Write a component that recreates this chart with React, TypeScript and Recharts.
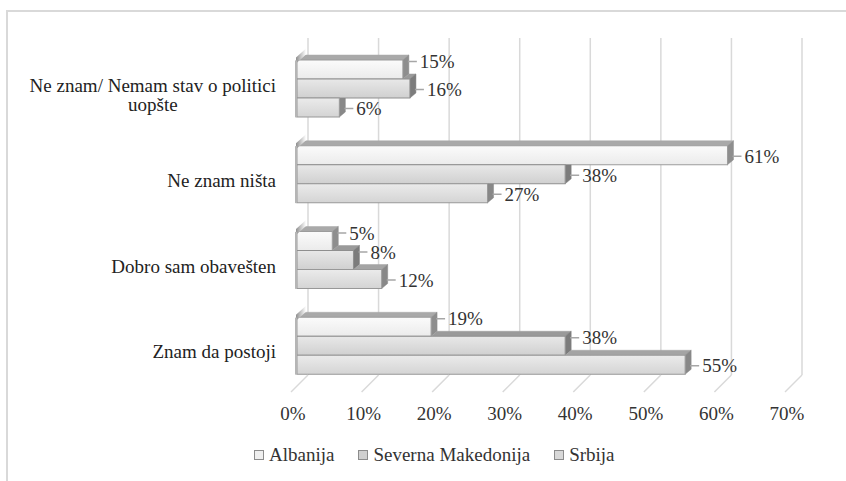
import React, { useLayoutEffect, useRef, useState } from 'react';
import { BarChart, Bar, XAxis, YAxis, CartesianGrid, Legend, LabelList } from 'recharts';

const categories = [
  'Ne znam/ Nemam stav o politici uopšte',
  'Ne znam ništa',
  'Dobro sam obavešten',
  'Znam da postoji',
];
const albanija = [0.15, 0.61, 0.05, 0.19];
const severnaMakedonija = [0.16, 0.38, 0.08, 0.38];
const srbija = [0.06, 0.27, 0.12, 0.55];
const xTicks = [0, 0.1, 0.2, 0.3, 0.4, 0.5, 0.6, 0.7];
const seriesNames = ['Albanija', 'Severna Makedonija', 'Srbija'];
const seriesKeys = ['albanija', 'makedonija', 'srbija'];
const seriesValues = [albanija, severnaMakedonija, srbija];

const data = categories.map((name, i) => ({
  name,
  albanija: albanija[i],
  makedonija: severnaMakedonija[i],
  srbija: srbija[i],
}));

const FONT = '"Liberation Serif", "Times New Roman", serif';
const DX = 6;
const DY = 5;

type FaceStyle = { top: string; bottom: string; lid: string; side: string; stroke: string; legend: string };
const styles: FaceStyle[] = [
  { top: '#fbfbfb', bottom: '#ebebeb', lid: '#a9a9a9', side: '#8e8e8e', stroke: '#9c9c9c', legend: '#efefef' },
  { top: '#e8e8e8', bottom: '#d0d0d0', lid: '#9a9a9a', side: '#7c7c7c', stroke: '#8f8f8f', legend: '#cfcfcf' },
  { top: '#ebebeb', bottom: '#d4d4d4', lid: '#a4a4a4', side: '#888888', stroke: '#989898', legend: '#d8d8d8' },
];

function make3DShape(si: number) {
  return (props: any) => {
    const { x, y, width, height, payload, index } = props;
    if (width == null || !(width > 0)) return <g />;
    const st = styles[si];
    const key = seriesKeys[si];
    const gid = `grad-${key}`;
    let clipId: string | undefined;
    let clipEl: React.ReactNode = null;
    if (si > 0 && payload) {
      const val = payload[key];
      const av = payload[seriesKeys[si - 1]];
      const aw = val > 0 ? (width * av) / val : 0;
      const xa = x + aw;
      clipId = `clip-${key}-${index}`;
      const d =
        `M-100 -100H3000V3000H-100Z ` +
        `M${x} ${y - height}H${xa}V${y}H${x}Z ` +
        `M${xa} ${y - height}L${xa + DX} ${y - height - DY}L${xa + DX} ${y - DY}L${xa} ${y}Z`;
      clipEl = (
        <clipPath id={clipId}>
          <path d={d} clipRule="evenodd" />
        </clipPath>
      );
    }
    return (
      <g>
        <defs>
          <linearGradient id={gid} x1="0" y1="0" x2="0" y2="1">
            <stop offset="0%" stopColor={st.top} />
            <stop offset="100%" stopColor={st.bottom} />
          </linearGradient>
          {clipEl}
        </defs>
        <g clipPath={clipId ? `url(#${clipId})` : undefined}>
          <polygon
            points={`${x},${y} ${x + DX},${y - DY} ${x + width + DX},${y - DY} ${x + width},${y}`}
            fill={st.lid}
            stroke={st.lid}
            strokeWidth={0.5}
          />
          <polygon
            points={`${x + width},${y} ${x + width + DX},${y - DY} ${x + width + DX},${y + height - DY} ${x + width},${y + height}`}
            fill={st.side}
            stroke={st.side}
            strokeWidth={0.5}
          />
        </g>
        <rect x={x} y={y} width={width} height={height} fill={`url(#${gid})`} stroke={st.stroke} strokeWidth={1} />
      </g>
    );
  };
}

function makeLabel(si: number) {
  return (props: any) => {
    const { x, y, width, height, value, index } = props;
    if (value == null) return null;
    const below = si < 2 ? seriesValues[si + 1][index] : undefined;
    const shift = below != null && below > value ? -8 : 1;
    const cy = y + height / 2 + shift;
    const end = x + width;
    return (
      <g>
        <line x1={end + DX - 1} y1={cy} x2={end + 14} y2={cy} stroke="#a6a6a6" strokeWidth={1.5} />
        <text x={end + 17} y={cy} dy="0.35em" style={{ fontFamily: FONT }} fontSize={19} fill="#333">
          {`${Math.round(value * 100)}%`}
        </text>
      </g>
    );
  };
}

function wrap(text: string, max = 30) {
  const words = text.split(' ');
  const lines: string[] = [];
  let cur = '';
  for (const w of words) {
    const next = cur ? `${cur} ${w}` : w;
    if (next.length > max && cur) {
      lines.push(cur);
      cur = w;
    } else cur = next;
  }
  if (cur) lines.push(cur);
  return lines;
}

const MultiLine = ({ ax, y, lines }: { ax: number; y: number; lines: string[] }) => {
  const firstRef = useRef<SVGTextElement | null>(null);
  const [w, setW] = useState(0);
  useLayoutEffect(() => {
    const update = () => {
      if (firstRef.current) {
        const len = firstRef.current.getComputedTextLength();
        if (Math.abs(len - w) > 0.5) setW(len);
      }
    };
    update();
    const fonts = (document as any).fonts;
    if (fonts && fonts.ready) fonts.ready.then(update);
    const t = setTimeout(update, 200);
    return () => clearTimeout(t);
  });
  const lh = 19;
  const startY = y - ((lines.length - 1) * lh) / 2;
  const cx = ax - w / 2;
  return (
    <g>
      {lines.map((l, i) => (
        <text
          key={i}
          ref={i === 0 ? firstRef : undefined}
          x={i === 0 ? ax : cx}
          y={startY + i * lh}
          dy="0.35em"
          textAnchor={i === 0 ? 'end' : 'middle'}
          style={{ fontFamily: FONT }}
          fontSize={19}
          fill="#222"
        >
          {l}
        </text>
      ))}
    </g>
  );
};

const CategoryTick = (props: any) => {
  const { x, y, payload } = props;
  const lines = wrap(String(payload.value));
  const ax = x - 21;
  const gTop = y - 28.5;
  return (
    <g>
      <defs>
        <linearGradient id="wallGrad" x1="0" y1="0" x2="1" y2="0">
          <stop offset="0%" stopColor="#8f8f8f" />
          <stop offset="100%" stopColor="#ffffff" />
        </linearGradient>
      </defs>
      <polygon
        points={`${x - 1},${gTop + 3} ${x - 1},${gTop - 3} ${x + 9},${gTop - 12} ${x + 9},${gTop - 6}`}
        fill="url(#wallGrad)"
      />
      <rect x={x - 2} y={gTop} width={2} height={57} fill="#b5b5b5" />
      {lines.length === 1 ? (
        <text x={ax} y={y + 5.5} dy="0.35em" textAnchor="end" style={{ fontFamily: FONT }} fontSize={19} fill="#222">
          {lines[0]}
        </text>
      ) : (
        <MultiLine ax={ax} y={y + 5.5} lines={lines} />
      )}
    </g>
  );
};

const ValueTick = (props: any) => {
  const { x, y, payload } = props;
  return (
    <g>
      <line x1={x + 11} y1={y - 14} x2={x - 6} y2={y + 3} stroke="#d9d9d9" strokeWidth={1.5} />
      <text x={x - 4} y={y + 24} dy="0.35em" textAnchor="middle" style={{ fontFamily: FONT }} fontSize={19} fill="#333">
        {`${Math.round(payload.value * 100)}%`}
      </text>
    </g>
  );
};

const gridX = (args: any) => {
  const scale = args?.xAxis?.scale;
  const off = args?.offset || {};
  return xTicks.map(
    (t) => (typeof scale === 'function' ? scale(t) : off.left + (t / 0.7) * off.width) + 11
  );
};

const LegendContent = () => (
  <div
    style={{
      position: 'absolute',
      left: 254,
      top: 444,
      display: 'flex',
      alignItems: 'center',
      fontFamily: FONT,
      fontSize: 19,
      color: '#333',
      whiteSpace: 'nowrap',
      lineHeight: '22px',
    }}
  >
    {seriesNames.map((n, i) => (
      <div key={n} style={{ display: 'flex', alignItems: 'center', marginRight: i < 2 ? 24 : 0 }}>
        <span
          style={{
            display: 'inline-block',
            width: 8,
            height: 8,
            border: '1px solid #8c8c8c',
            background: styles[i].legend,
            marginRight: 5,
          }}
        />
        <span>{n}</span>
      </div>
    ))}
  </div>
);

export default function App() {
  return (
    <div style={{ position: 'relative', width: 846, height: 481, background: '#fff', overflow: 'hidden', fontFamily: FONT }}>
      <style>{`html,body{margin:0;padding:0;overflow:hidden;background:#fff;}`}</style>
      <div
        style={{
          position: 'absolute',
          left: 6,
          top: 10,
          width: 840,
          height: 471,
          borderLeft: '2px solid #d9d9d9',
          borderTop: '2px solid #d9d9d9',
          boxSizing: 'border-box',
        }}
      />
      <div style={{ position: 'absolute', left: 0, top: 0 }}>
        <BarChart
          width={846}
          height={481}
          data={data}
          layout="vertical"
          margin={{ top: 46, right: 55, bottom: 62, left: 0 }}
          barGap={0}
          barSize={19}
        >
          <CartesianGrid
            horizontal={false}
            vertical={true}
            y={38}
            height={337}
            stroke="#d9d9d9"
            strokeWidth={1.5}
            verticalCoordinatesGenerator={gridX}
          />
          <XAxis
            type="number"
            domain={[0, 0.7]}
            ticks={xTicks}
            axisLine={false}
            tickLine={false}
            tickSize={0}
            tickMargin={0}
            height={30}
            interval={0}
            tick={<ValueTick />}
          />
          <YAxis
            type="category"
            dataKey="name"
            width={297}
            axisLine={false}
            tickLine={false}
            tickSize={0}
            tickMargin={0}
            interval={0}
            tick={<CategoryTick />}
          />
          <Legend
            verticalAlign="bottom"
            content={<LegendContent />}
            wrapperStyle={{ left: 0, top: 0, width: 846, height: 0 }}
          />
          {seriesKeys.map((k, i) => (
            <Bar key={k} dataKey={k} name={seriesNames[i]} isAnimationActive={false} shape={make3DShape(i)}>
              <LabelList dataKey={k} content={makeLabel(i)} />
            </Bar>
          ))}
        </BarChart>
      </div>
    </div>
  );
}
